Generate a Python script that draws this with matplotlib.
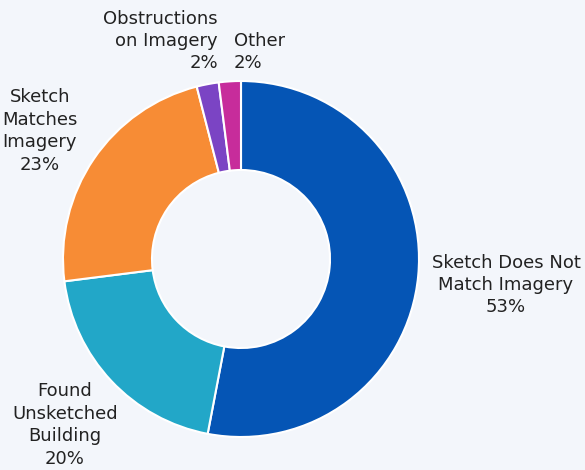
import matplotlib.pyplot as plt

labels = ['Sketch Does Not Match Imagery', 'Found Unsketched Building',
          'Sketch Matches Imagery', 'Obstructions on Imagery', 'Other']
values = [53, 20, 23, 2, 2]
colors = ['#0555b5', '#22a7c8', '#f78c35', '#7b44c4', '#c72c9b']

# label placement in pixel coords (x, y, ha)
label_pos = [(506, 285, 'center'), (65, 425, 'center'), (40, 131, 'center'),
             (218, 41, 'right'), (234, 52, 'left')]
label_text = ['Sketch Does Not\nMatch Imagery', 'Found\nUnsketched\nBuilding',
              'Sketch\nMatches\nImagery', 'Obstructions\non Imagery', 'Other']

bg = '#f3f6fb'
fig = plt.figure(figsize=(5.85, 4.70), dpi=100, facecolor=bg)
ax = fig.add_axes([0, 0, 1, 1])
ax.set_facecolor(bg)

# y axis is flipped below, so counterclock in data = clockwise on screen
ax.pie(values, colors=colors, startangle=-90, counterclock=True,
       center=(241, 259), radius=178, frame=True,
       wedgeprops=dict(width=89, edgecolor='white', linewidth=1.5))
ax.set_xlim(0, 585)
ax.set_ylim(470, 0)
ax.set_aspect('equal')
ax.axis('off')

for (x, y, ha), txt, v in zip(label_pos, label_text, values):
    ax.text(x, y, f"{txt}\n{v}%", ha=ha, va='center', multialignment=ha,
            fontsize=13, color='#222222', linespacing=1.32, family='DejaVu Sans')

fig.savefig('out.png', dpi=100, facecolor=bg)
